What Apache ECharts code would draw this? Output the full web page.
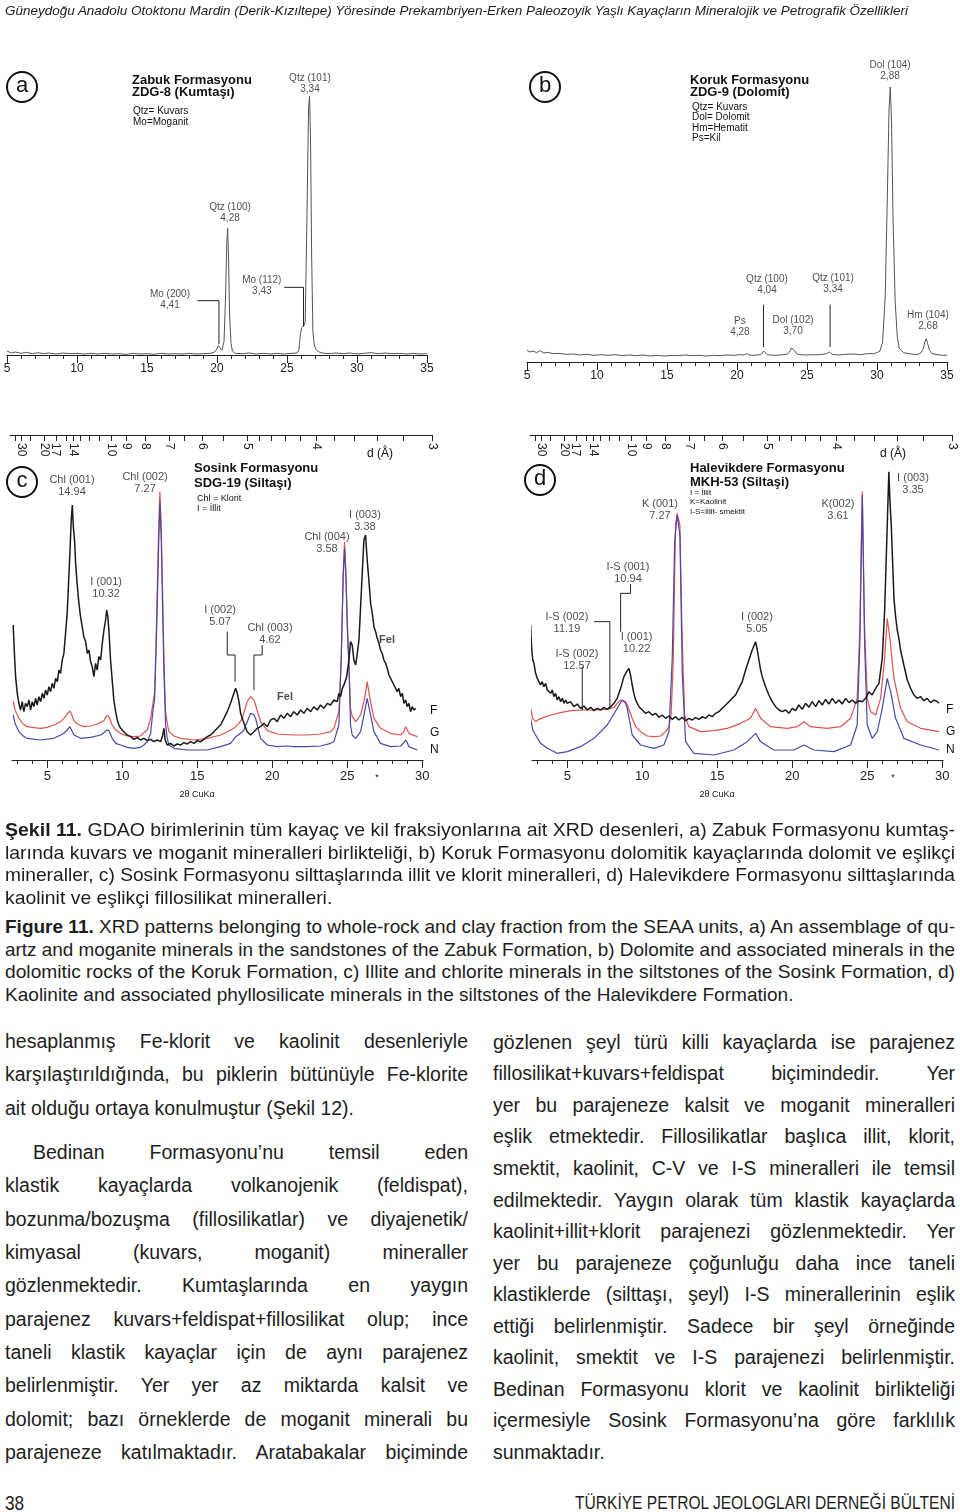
<!DOCTYPE html>
<html>
<head>
<meta charset="utf-8">
<script src="https://cdn.jsdelivr.net/npm/echarts@6/dist/echarts.min.js"></script>
<style>
html, body { margin: 0; padding: 0; background: #fff; }
#page { position: relative; width: 960px; height: 1512px; overflow: hidden; background: #fff; }
#chart { position: absolute; left: 0; top: 0; width: 960px; height: 812px; }
.ln { position: absolute; white-space: nowrap; color: #1d1d1d; }
.ln span { display: inline-block; transform-origin: 0 50%; }
</style>
</head>
<body>
<div id="page"><div id="chart"></div></div>
<script>
// ---- data: [2theta, intensity] ----
const zabukTrace = [[5.0,12],[5.3,6],[5.6,9],[6.0,5],[6.4,8],[6.8,4],[7.2,7],[7.6,4],[8.0,6],[8.5,3],[9.0,6],[9.5,4],[10.0,5],[10.5,3],[11.0,5],[11.5,3],[12.0,5],[12.5,3],[13.0,4],[13.5,2],[14.0,5],[14.5,3],[15.0,4],[15.5,2],[16.0,5],[16.5,3],[17.0,4],[17.5,3],[18.0,5],[18.5,3],[19.0,4],[19.5,5],[19.8,8],[20.0,18],[20.1,28],[20.2,22],[20.35,14],[20.5,40],[20.6,160],[20.7,340],[20.76,380],[20.82,300],[20.9,120],[21.0,35],[21.1,12],[21.3,5],[21.8,4],[22.3,6],[22.8,3],[23.3,5],[23.8,3],[24.3,5],[24.8,3],[25.3,5],[25.7,6],[25.85,15],[25.95,60],[26.05,82],[26.2,88],[26.3,100],[26.42,400],[26.54,740],[26.61,777],[26.68,650],[26.76,300],[26.85,70],[26.95,30],[27.1,15],[27.25,10],[27.35,14],[27.5,6],[28.0,4],[28.5,6],[29.0,4],[29.5,6],[30.0,3],[30.5,5],[31.0,7],[31.5,4],[32.0,6],[32.5,4],[33.0,5],[33.5,3],[34.0,5],[34.5,3],[35.0,4]];

const korukTrace = [[5.0,35],[5.2,30],[5.43,33],[5.7,28],[5.91,34],[6.2,27],[6.5,29],[6.86,25],[7.3,26],[7.8,23],[8.3,24],[8.8,21],[9.3,23],[9.8,20],[10.3,22],[10.8,20],[11.3,22],[11.8,19],[12.3,21],[12.8,19],[13.3,21],[13.8,18],[14.3,20],[14.8,18],[15.3,20],[15.8,19],[16.3,21],[16.8,19],[17.3,20],[17.8,18],[18.3,20],[18.8,19],[19.3,21],[19.8,20],[20.2,22],[20.5,21],[20.7,25],[20.9,21],[21.2,20],[21.5,21],[21.75,24],[21.9,33],[22.0,30],[22.15,22],[22.6,20],[23.1,21],[23.55,23],[23.75,30],[23.9,42],[23.98,45],[24.1,35],[24.25,25],[24.5,22],[25.0,21],[25.5,22],[25.94,22],[26.4,25],[26.6,30],[26.8,23],[27.2,21],[27.7,23],[28.3,24],[28.8,22],[29.3,25],[29.8,25],[30.2,32],[30.4,60],[30.59,200],[30.75,520],[30.86,760],[30.95,825],[31.04,720],[31.15,420],[31.3,180],[31.45,75],[31.6,40],[31.9,28],[32.4,24],[32.86,22],[33.15,28],[33.3,40],[33.42,60],[33.52,70],[33.62,55],[33.75,35],[33.93,25],[34.3,22],[34.7,20],[35.0,21]];

const sosinkF = [[2.73,405],[2.8,330],[2.89,250],[3.0,200],[3.11,170],[3.22,150],[3.33,175],[3.44,145],[3.55,170],[3.67,160],[3.78,180],[3.89,150],[4.0,175],[4.11,160],[4.22,185],[4.33,165],[4.44,190],[4.56,175],[4.67,200],[4.78,185],[4.89,210],[5.0,195],[5.11,220],[5.22,205],[5.33,230],[5.44,215],[5.56,245],[5.67,235],[5.78,270],[5.89,260],[6.0,300],[6.11,320],[6.22,380],[6.33,440],[6.42,530],[6.51,620],[6.6,720],[6.67,765],[6.74,700],[6.82,660],[6.89,590],[7.0,525],[7.11,470],[7.22,430],[7.33,400],[7.44,370],[7.56,355],[7.67,320],[7.78,330],[7.89,295],[8.0,280],[8.11,250],[8.22,290],[8.33,270],[8.44,310],[8.56,300],[8.67,350],[8.78,390],[8.89,420],[8.96,450],[9.04,430],[9.11,390],[9.22,300],[9.33,240],[9.44,180],[9.56,145],[9.67,120],[9.78,105],[9.89,95],[10.11,85],[10.33,75],[10.56,70],[10.78,62],[11.0,68],[11.22,60],[11.44,65],[11.67,58],[11.89,62],[12.11,55],[12.33,60],[12.56,55],[12.7,75],[12.78,95],[12.86,60],[13.0,45],[13.22,50],[13.44,42],[13.67,48],[13.89,45],[14.11,52],[14.33,48],[14.56,55],[14.78,50],[15.0,58],[15.22,55],[15.44,62],[15.67,70],[15.89,75],[16.11,85],[16.33,95],[16.56,105],[16.78,125],[17.0,145],[17.22,170],[17.44,200],[17.56,215],[17.67,200],[17.78,175],[17.89,140],[18.11,110],[18.33,85],[18.56,75],[18.78,85],[19.0,95],[19.22,100],[19.44,110],[19.67,100],[19.89,120],[20.11,125],[20.33,115],[20.56,135],[20.78,125],[21.0,140],[21.22,130],[21.44,145],[21.67,135],[21.89,150],[22.11,140],[22.33,155],[22.56,145],[22.78,160],[23.0,150],[23.22,165],[23.44,155],[23.67,170],[23.89,165],[24.11,180],[24.33,175],[24.44,200],[24.56,190],[24.67,215],[24.82,230],[24.96,250],[25.11,300],[25.22,355],[25.33,345],[25.44,300],[25.56,285],[25.67,320],[25.78,360],[25.89,460],[26.0,560],[26.11,660],[26.22,675],[26.33,600],[26.44,540],[26.56,470],[26.67,440],[26.78,400],[26.89,385],[27.0,365],[27.11,350],[27.22,330],[27.33,320],[27.44,300],[27.56,290],[27.67,275],[27.78,255],[27.89,245],[28.0,250],[28.11,225],[28.22,230],[28.33,205],[28.44,215],[28.56,190],[28.67,200],[28.78,170],[28.89,180],[29.0,160],[29.11,170],[29.22,145],[29.33,160],[29.44,150],[29.56,155]];

const sosinkG = [[2.73,175],[2.85,150],[3.11,125],[3.4,108],[3.67,100],[4.11,97],[4.56,95],[5.0,98],[5.44,105],[5.89,115],[6.11,125],[6.33,138],[6.51,147],[6.6,140],[6.78,118],[7.0,108],[7.44,100],[7.89,102],[8.33,108],[8.78,118],[8.96,133],[9.11,130],[9.33,105],[9.56,90],[9.89,80],[10.33,72],[10.78,70],[11.22,72],[11.44,82],[11.67,90],[11.89,125],[12.05,170],[12.16,205],[12.25,350],[12.33,505],[12.43,700],[12.51,805],[12.6,700],[12.69,505],[12.78,300],[12.89,145],[13.0,110],[13.11,85],[13.44,72],[13.89,65],[14.78,60],[15.67,65],[16.56,75],[17.0,85],[17.44,95],[17.78,110],[18.0,125],[18.33,175],[18.56,190],[18.67,195],[18.78,180],[18.89,165],[19.22,115],[19.67,88],[20.33,78],[21.44,75],[22.33,75],[23.22,78],[23.89,85],[24.11,95],[24.44,145],[24.6,305],[24.73,555],[24.82,655],[24.92,555],[25.0,420],[25.11,290],[25.22,155],[25.33,130],[25.56,115],[25.89,135],[26.16,185],[26.33,235],[26.51,185],[26.78,125],[27.22,95],[27.89,80],[28.56,75],[28.78,85],[28.89,100],[29.0,90],[29.11,80],[29.67,70]];

const sosinkN = [[2.73,135],[2.85,110],[3.11,85],[3.4,72],[3.67,65],[4.56,60],[5.44,65],[5.89,75],[6.11,80],[6.33,90],[6.51,100],[6.6,95],[6.78,75],[7.22,65],[7.89,68],[8.56,75],[8.78,82],[8.96,90],[9.11,88],[9.33,65],[9.56,50],[9.89,45],[10.33,38],[10.78,35],[11.22,38],[11.44,45],[11.67,55],[11.89,80],[12.05,150],[12.16,185],[12.25,320],[12.33,455],[12.43,650],[12.51,775],[12.6,660],[12.69,455],[12.78,260],[12.89,105],[13.0,65],[13.11,45],[13.44,35],[14.33,30],[15.67,30],[16.56,40],[17.22,50],[17.56,70],[17.89,80],[18.11,90],[18.33,115],[18.56,140],[18.67,145],[18.78,135],[18.89,125],[19.22,65],[19.67,45],[20.33,40],[21.0,42],[21.44,40],[22.33,40],[23.22,42],[23.89,50],[24.11,55],[24.44,105],[24.6,305],[24.73,555],[24.82,635],[24.92,535],[25.0,400],[25.11,285],[25.22,105],[25.33,75],[25.56,65],[25.89,85],[26.16,145],[26.33,185],[26.51,145],[26.78,85],[27.22,50],[27.89,40],[28.56,42],[28.78,52],[28.89,60],[29.0,52],[29.11,40],[29.67,30]];

const halevikF = [[2.56,405],[2.62,340],[2.7,300],[2.78,290],[2.89,260],[3.0,245],[3.11,250],[3.22,225],[3.33,235],[3.44,220],[3.56,230],[3.67,210],[3.78,215],[3.89,200],[4.0,210],[4.11,190],[4.22,200],[4.33,180],[4.44,190],[4.56,175],[4.67,185],[4.78,170],[4.89,180],[5.0,170],[5.22,175],[5.44,160],[5.67,168],[5.89,155],[6.11,162],[6.33,150],[6.56,158],[6.78,148],[7.0,155],[7.22,150],[7.44,158],[7.67,152],[7.89,160],[8.11,170],[8.33,185],[8.56,215],[8.78,250],[8.96,265],[9.11,275],[9.22,255],[9.33,225],[9.44,200],[9.56,180],[9.78,160],[10.0,150],[10.22,140],[10.44,145],[10.67,135],[10.89,140],[11.11,128],[11.33,135],[11.56,125],[11.78,132],[12.0,122],[12.22,130],[12.44,120],[12.67,128],[12.89,118],[13.11,125],[13.33,120],[13.56,127],[13.78,122],[14.0,130],[14.22,125],[14.44,135],[14.67,130],[14.89,140],[15.11,145],[15.33,155],[15.56,165],[15.78,175],[16.0,185],[16.22,195],[16.44,215],[16.67,235],[16.89,270],[17.11,300],[17.33,330],[17.56,355],[17.67,330],[17.78,300],[17.89,270],[18.0,250],[18.22,220],[18.44,195],[18.67,175],[18.89,160],[19.11,150],[19.33,145],[19.56,150],[19.78,140],[20.0,155],[20.22,148],[20.44,165],[20.67,152],[20.89,170],[21.11,158],[21.33,175],[21.56,160],[21.78,178],[22.0,165],[22.22,182],[22.44,168],[22.67,185],[22.89,170],[23.11,180],[23.33,168],[23.56,185],[23.78,172],[24.0,180],[24.22,170],[24.44,178],[24.67,175],[24.89,185],[25.11,205],[25.33,195],[25.56,215],[25.78,230],[26.0,305],[26.16,450],[26.33,700],[26.44,865],[26.51,780],[26.6,705],[26.78,485],[26.89,430],[27.0,390],[27.11,365],[27.22,330],[27.44,285],[27.67,240],[27.89,215],[28.11,195],[28.33,185],[28.56,190],[28.78,178],[29.0,185],[29.22,172],[29.44,180],[29.67,175],[29.78,170]];

const halevikG = [[2.56,155],[2.7,125],[2.89,115],[3.11,122],[3.44,128],[3.89,135],[4.56,142],[5.22,148],[6.11,150],[6.89,150],[7.67,152],[8.11,158],[8.33,170],[8.56,180],[8.67,185],[8.89,175],[9.0,165],[9.33,125],[9.56,100],[9.89,85],[10.33,72],[10.78,70],[11.22,72],[11.56,85],[11.78,100],[11.93,140],[12.07,300],[12.16,550],[12.22,705],[12.33,740],[12.45,735],[12.51,705],[12.67,350],[12.78,200],[12.82,135],[13.11,100],[13.89,85],[14.78,88],[15.67,95],[16.56,110],[17.22,125],[17.56,155],[17.67,145],[17.89,125],[18.56,100],[19.67,95],[20.33,100],[20.78,115],[21.22,100],[22.33,95],[23.22,100],[23.89,125],[24.33,185],[24.51,400],[24.6,650],[24.67,805],[24.73,650],[24.82,400],[25.0,185],[25.22,145],[25.56,135],[25.89,185],[26.16,305],[26.33,425],[26.51,365],[26.78,245],[27.22,155],[27.67,115],[28.56,95],[29.78,85]];

const halevikN = [[2.56,125],[2.7,90],[2.89,75],[3.22,50],[3.67,35],[4.33,20],[5.0,25],[5.89,40],[6.78,65],[7.67,105],[8.33,155],[8.67,180],[8.89,170],[9.0,155],[9.33,75],[9.89,45],[10.78,35],[11.44,45],[11.78,85],[12.0,305],[12.16,655],[12.33,735],[12.51,675],[12.67,255],[12.89,55],[13.44,20],[14.78,15],[16.11,30],[17.0,55],[17.56,80],[17.89,55],[18.78,30],[20.11,30],[20.78,45],[21.44,30],[22.78,25],[23.89,45],[24.33,105],[24.51,355],[24.67,795],[24.82,355],[25.0,105],[25.33,65],[25.67,85],[26.0,155],[26.33,245],[26.56,205],[26.89,125],[27.44,65],[28.56,45],[29.78,30]];

// ---- axis tick labels ----
const twoThetaLabels = [5, 10, 15, 20, 25, 30];
const twoThetaMinor = [3,4,6,7,8,9,11,12,13,14,16,17,18,19,21,22,23,24,26,27,28,29];
const dLabels = [40, 30, 20, 17, 14, 10, 9, 8, 7, 6, 5, 4, 3];
const dMinor = [35, 25, 15, 13, 12, 11, 6.5, 5.5, 4.8, 4.6, 4.4, 4.2, 3.8, 3.6, 3.4, 3.2];

// ---- peak annotations: [2theta, intensity, text] ----
const annotA = [[26.64,814,'Qtz (101)\n3,34'],[20.93,426,'Qtz (100)\n4,28'],[23.2,207,'Mo (112)\n3,43'],[16.64,165,'Mo (200)\n4,41']];
const arrowsA = [[[20.14,32],[20.14,163],[18.6,163]],[[26.18,85],[26.18,203],[24.8,203]]];
const annotB = [[30.93,874,'Dol (104)\n2,88'],[22.14,231,'Qtz (100)\n4,04'],[26.86,234,'Qtz (101)\n3,34'],[20.21,105,'Ps\n4,28'],[24.0,108,'Dol (102)\n3,70'],[33.64,123,'Hm (104)\n2,68']];
const arrowsB = [[[21.89,45],[21.89,172]],[[26.65,45],[26.65,172]]];
const annotC = [[6.65,823,'Chl (001)\n14.94'],[11.52,832,'Chl (002)\n7.27'],[23.65,652,'Chl (004)\n3.58'],[26.18,718,'I (003)\n3.38'],[8.92,517,'I (001)\n10.32'],[16.52,433,'I (002)\n5.07'],[19.85,378,'Chl (003)\n4.62']];
const felC = [[20.85,189,'Fel'],[27.65,360,'Fel']];
const arrowsC = [[[17.52,235],[17.52,315],[17.0,315],[17.0,385]],[[18.78,210],[18.78,315],[19.33,315],[19.33,345]]];
const annotD = [[11.18,750,'K (001)\n7.27'],[23.05,750,'K(002)\n3.61'],[28.05,828,'I (003)\n3.35'],[9.05,562,'I-S (001)\n10.94'],[4.98,412,'I-S (002)\n11.19'],[5.65,300,'I-S (002)\n12.57'],[9.62,352,'I (001)\n10.22'],[17.65,412,'I (002)\n5.05']];
const arrowsD = [[[8.56,385],[8.56,500],[9.22,500],[9.22,528]],[[7.84,155],[7.84,415],[6.78,415]],[[6.0,150],[6.0,280]]];

// ---- page text ----
const headerText = 'Güneydoğu Anadolu Otoktonu Mardin (Derik-Kızıltepe) Yöresinde Prekambriyen-Erken Paleozoyik Yaşlı Kayaçların Mineralojik ve Petrografik Özellikleri';
const captionTr = [
  '<b>Şekil 11.</b> GDAO birimlerinin tüm kayaç ve kil fraksiyonlarına ait XRD desenleri, a) Zabuk Formasyonu kumtaş-',
  'larında kuvars ve moganit mineralleri birlikteliği, b) Koruk Formasyonu dolomitik kayaçlarında dolomit ve eşlikçi',
  'mineraller, c) Sosink Formasyonu silttaşlarında illit ve klorit mineralleri, d) Halevikdere Formasyonu silttaşlarında',
  'kaolinit ve eşlikçi fillosilikat mineralleri.'
];
const captionEn = [
  '<b>Figure 11.</b> XRD patterns belonging to whole-rock and clay fraction from the SEAA units, a) An assemblage of qu-',
  'artz and moganite minerals in the sandstones of the Zabuk Formation, b) Dolomite and associated minerals in the',
  'dolomitic rocks of the Koruk Formation, c) Illite and chlorite minerals in the siltstones of the Sosink Formation, d)',
  'Kaolinite and associated phyllosilicate minerals in the siltstones of the Halevikdere Formation.'
];
const leftCol = [
  'hesaplanmış Fe-klorit ve kaolinit desenleriyle',
  'karşılaştırıldığında, bu piklerin bütünüyle Fe-klorite',
  'ait olduğu ortaya konulmuştur (Şekil 12).',
  'Bedinan Formasyonu’nu temsil eden',
  'klastik kayaçlarda volkanojenik (feldispat),',
  'bozunma/bozuşma (fillosilikatlar) ve diyajenetik/',
  'kimyasal (kuvars, moganit) mineraller',
  'gözlenmektedir. Kumtaşlarında en yaygın',
  'parajenez kuvars+feldispat+fillosilikat olup; ince',
  'taneli klastik kayaçlar için de aynı parajenez',
  'belirlenmiştir. Yer yer az miktarda kalsit ve',
  'dolomit; bazı örneklerde de moganit minerali bu',
  'parajeneze katılmaktadır. Aratabakalar biçiminde'
];
const rightCol = [
  'gözlenen şeyl türü killi kayaçlarda ise parajenez',
  'fillosilikat+kuvars+feldispat biçimindedir. Yer',
  'yer bu parajeneze kalsit ve moganit mineralleri',
  'eşlik etmektedir. Fillosilikatlar başlıca illit, klorit,',
  'smektit, kaolinit, C-V ve I-S mineralleri ile temsil',
  'edilmektedir. Yaygın olarak tüm klastik kayaçlarda',
  'kaolinit+illit+klorit parajenezi gözlenmektedir. Yer',
  'yer bu parajeneze çoğunluğu daha ince taneli',
  'klastiklerde (silttaşı, şeyl) I-S minerallerinin eşlik',
  'ettiği belirlenmiştir. Sadece bir şeyl örneğinde',
  'kaolinit, smektit ve I-S parajenezi belirlenmiştir.',
  'Bedinan Formasyonu klorit ve kaolinit birlikteliği',
  'içermesiyle Sosink Formasyonu’na göre farklılık',
  'sunmaktadır.'
];

const SANS = '"Liberation Sans", Arial, sans-serif';
const page = document.getElementById('page');

// each line placed on its own; justified lines get extra word spacing, or are squeezed (scaleX);
// "fit" blocks always scale the glyphs to the width, like a condensed face
function addLines(lines, cfg) {
  const items = [];
  lines.forEach((txt, i) => {
    const lh = cfg.size * 1.25;
    let cy = cfg.y0 + cfg.step * i;
    if (cfg.gapAfter != null && i > cfg.gapAfter) cy += cfg.gap;
    const indent = (cfg.indent && cfg.indent[i]) || 0;
    const d = document.createElement('div');
    d.className = 'ln';
    d.style.left = (cfg.x + indent) + 'px';
    d.style.top = (cy - lh / 2) + 'px';
    d.style.font = (cfg.style || 'normal') + ' ' + (cfg.weight || 'normal') + ' ' + cfg.size + 'px/' + lh + 'px ' + SANS;
    if (cfg.color) d.style.color = cfg.color;
    const s = document.createElement('span');
    s.innerHTML = txt;
    d.appendChild(s);
    page.appendChild(d);
    items.push({ s, W: cfg.w - indent, last: (cfg.last || []).includes(i) });
  });
  let sum = 0, n = 0;
  items.forEach(o => {
    o.nat = o.s.getBoundingClientRect().width;
    if (!o.last) { sum += cfg.fit ? o.W / o.nat : Math.min(1, o.W / o.nat); n++; }
  });
  const avg = cfg.lastScale || (n ? sum / n : 1);
  items.forEach(o => {
    if (o.last) {
      if (avg !== 1) o.s.style.transform = 'scaleX(' + avg + ')';
      return;
    }
    if (cfg.fit || o.nat > o.W) o.s.style.transform = 'scaleX(' + (o.W / o.nat) + ')';
    else {
      const sp = (o.s.textContent.match(/ /g) || []).length;
      if (sp) o.s.style.wordSpacing = ((o.W - o.nat) / sp) + 'px';
    }
  });
}

addLines([headerText], { x: 5, w: 903, y0: 11, step: 0, size: 13, style: 'italic', color: '#222', fit: true });
addLines(captionTr, { x: 5, w: 950, y0: 830, step: 22.6, size: 19, last: [3], fit: true });
addLines(captionEn, { x: 5, w: 950, y0: 927, step: 22.6, size: 19, last: [3], fit: true });
addLines(leftCol, { x: 5, w: 463, y0: 1041, step: 33.35, size: 19.5, gapAfter: 2, gap: 11, indent: { 3: 28 }, last: [2] });
addLines(rightCol, { x: 493, w: 462, y0: 1042, step: 31.55, size: 19.5, last: [13] });
addLines(['38'], { x: 5, w: 40, y0: 1503, step: 0, size: 21, last: [0], lastScale: 0.82 });
addLines(['TÜRKİYE PETROL JEOLOGLARI DERNEĞİ BÜLTENİ'], { x: 575, w: 380, y0: 1503, step: 0, size: 19, fit: true });

// ---- chart ----
const LAMBDA = 1.5406;
const toTwoTheta = d => 2 * Math.asin(LAMBDA / (2 * d)) * 180 / Math.PI;
const toD = tt => LAMBDA / (2 * Math.sin(tt / 2 * Math.PI / 180));
const INK = '#222';

function axisAB(gi) {
  return {
    type: 'value', gridIndex: gi, min: 5, max: 35, interval: 5, position: 'bottom',
    axisLine: { show: true, onZero: false, lineStyle: { color: INK, width: 1.2 } },
    axisTick: { show: true, length: 8, lineStyle: { color: INK } },
    minorTick: { show: true, splitNumber: 5, length: 4, lineStyle: { color: INK } },
    axisLabel: { fontSize: 12, color: INK, margin: 8, fontFamily: SANS },
    splitLine: { show: false }
  };
}
function axisMajor(gi) {
  return {
    type: 'value', gridIndex: gi, min: 2.65, max: 30.05, position: 'bottom',
    axisLine: { show: true, onZero: false, lineStyle: { color: INK, width: 1.2 } },
    axisTick: { show: true, length: 8, customValues: twoThetaLabels, lineStyle: { color: INK } },
    axisLabel: { show: true, customValues: twoThetaLabels, fontSize: 13, color: INK, margin: 10, fontFamily: SANS },
    splitLine: { show: false }
  };
}
function axisMinor(gi) {
  return {
    type: 'value', gridIndex: gi, min: 2.65, max: 30.05, position: 'bottom',
    axisLine: { show: false, onZero: false },
    axisTick: { show: true, length: 4, customValues: twoThetaMinor, lineStyle: { color: INK } },
    axisLabel: { show: false },
    splitLine: { show: false }
  };
}
function axisTop(gi) {
  return {
    type: 'value', gridIndex: gi, min: toTwoTheta(40), max: toTwoTheta(3), position: 'top',
    axisLine: { show: true, onZero: false, lineStyle: { color: INK, width: 1.2 } },
    axisTick: { show: true, inside: true, length: 6, customValues: dLabels.concat(dMinor).map(toTwoTheta), lineStyle: { color: INK } },
    axisLabel: {
      show: true, inside: true, rotate: 90, customValues: dLabels.map(toTwoTheta),
      formatter: v => String(Math.round(toD(v) * 10) / 10),
      fontSize: 12, color: INK, margin: 8, fontFamily: SANS
    },
    splitLine: { show: false }
  };
}
function yHidden(gi, max) {
  return { type: 'value', gridIndex: gi, min: 0, max: max, show: false, splitLine: { show: false } };
}
function trace(data, xi, yi, color, width) {
  return {
    type: 'line', data: data, xAxisIndex: xi, yAxisIndex: yi, showSymbol: false, symbol: 'none',
    lineStyle: { color: color, width: width }, silent: true, z: 2
  };
}
function notes(data, xi, yi, size, weight) {
  return {
    type: 'scatter', data: data, xAxisIndex: xi, yAxisIndex: yi, symbolSize: 1,
    itemStyle: { color: 'rgba(0,0,0,0)' }, silent: true, z: 5,
    label: {
      show: true, position: 'inside', formatter: p => p.value[2], color: INK,
      fontSize: size, lineHeight: size + 1, fontWeight: weight || 'normal', fontFamily: SANS, align: 'center'
    }
  };
}
function arrows(paths, xi, yi) {
  return {
    type: 'lines', coordinateSystem: 'cartesian2d', xAxisIndex: xi, yAxisIndex: yi, polyline: true,
    symbol: ['none', 'arrow'], symbolSize: 7, silent: true, z: 4,
    lineStyle: { color: INK, width: 1, opacity: 1 },
    data: paths.map(p => ({ coords: p }))
  };
}
function txt(x, y, text, size, weight, align) {
  return {
    type: 'text', x: x, y: y, silent: true,
    style: { text: text, font: (weight || 'normal') + ' ' + size + 'px ' + SANS, fill: '#111', align: align || 'left', verticalAlign: 'middle' }
  };
}
function letter(cx, cy, ch) {
  return [
    { type: 'circle', shape: { cx: cx, cy: cy, r: 15 }, style: { fill: 'none', stroke: '#111', lineWidth: 2 }, silent: true },
    { type: 'text', x: cx, y: cy - 1, silent: true, style: { text: ch, font: '22px ' + SANS, fill: '#111', align: 'center', verticalAlign: 'middle' } }
  ];
}

const F_COLOR = '#1a1a1a', G_COLOR = '#e0524f', N_COLOR = '#4848aa';

const option = {
  animation: false,
  backgroundColor: '#fff',
  grid: [
    { left: 7, top: 55, width: 420, height: 300 },
    { left: 527, top: 62, width: 420, height: 300 },
    { left: 12, top: 435, width: 411, height: 325 },
    { left: 10, top: 435, width: 422, height: 325 },
    { left: 532, top: 435, width: 411, height: 325 },
    { left: 530, top: 435, width: 422, height: 325 }
  ],
  xAxis: [axisAB(0), axisAB(1), axisMajor(2), axisMinor(2), axisTop(3), axisMajor(4), axisMinor(4), axisTop(5)],
  yAxis: [yHidden(0, 900), yHidden(1, 900), yHidden(2, 975), yHidden(3, 975), yHidden(4, 975), yHidden(5, 975)],
  series: [
    trace(zabukTrace, 0, 0, '#555', 1),
    trace(korukTrace, 1, 1, '#555', 1),
    trace(sosinkG, 2, 2, G_COLOR, 1.2),
    trace(sosinkN, 2, 2, N_COLOR, 1.2),
    trace(sosinkF, 2, 2, F_COLOR, 1.5),
    trace(halevikG, 5, 4, G_COLOR, 1.2),
    trace(halevikN, 5, 4, N_COLOR, 1.2),
    trace(halevikF, 5, 4, F_COLOR, 1.5),
    notes(annotA, 0, 0, 10),
    notes(annotB, 1, 1, 10),
    notes(annotC, 2, 2, 11),
    notes(felC, 2, 2, 11, 'bold'),
    notes(annotD, 5, 4, 11),
    arrows(arrowsA, 0, 0),
    arrows(arrowsB, 1, 1),
    arrows(arrowsC, 2, 2),
    arrows(arrowsD, 5, 4)
  ],
  graphic: [].concat(
    letter(22, 87, 'a'), letter(545, 87, 'b'), letter(22, 482, 'c'), letter(540, 480, 'd'),
    [
      txt(132, 80, 'Zabuk Formasyonu', 13, 'bold'),
      txt(132, 92, 'ZDG-8 (Kumtaşı)', 13, 'bold'),
      txt(133, 111, 'Qtz= Kuvars', 10),
      txt(133, 122, 'Mo=Moganit', 10),
      txt(690, 80, 'Koruk Formasyonu', 13, 'bold'),
      txt(690, 92, 'ZDG-9 (Dolomit)', 13, 'bold'),
      txt(692, 107, 'Qtz= Kuvars', 10),
      txt(692, 117, 'Dol= Dolomit', 10),
      txt(692, 128, 'Hm=Hematit', 10),
      txt(692, 138, 'Ps=Kil', 10),
      txt(194, 468, 'Sosink Formasyonu', 13, 'bold'),
      txt(194, 483, 'SDG-19 (Siltaşı)', 13, 'bold'),
      txt(197, 499, 'Chl = Klorit', 9),
      txt(197, 509, 'I = İllit', 9),
      txt(690, 468, 'Halevikdere Formasyonu', 13, 'bold'),
      txt(690, 482, 'MKH-53 (Siltaşi)', 13, 'bold'),
      txt(690, 493, 'I = İllit', 8),
      txt(690, 502, 'K=Kaolinit', 8),
      txt(690, 512, 'I-S=İllit- smektit', 8),
      txt(380, 454, 'd (Å)', 12, 'normal', 'center'),
      txt(893, 454, 'd (Å)', 12, 'normal', 'center'),
      txt(430, 711, 'F', 12), txt(430, 733, 'G', 12), txt(430, 750, 'N', 12),
      txt(946, 710, 'F', 12), txt(946, 732, 'G', 12), txt(946, 750, 'N', 12),
      txt(197, 795, '2θ CuKα', 9, 'normal', 'center'),
      txt(717, 795, '2θ CuKα', 9, 'normal', 'center'),
      txt(377, 778, '*', 9, 'normal', 'center'),
      txt(893, 778, '*', 9, 'normal', 'center')
    ]
  )
};

const chart = echarts.init(document.getElementById('chart'), null, { renderer: 'canvas' });
chart.setOption(option);
</script>
</body>
</html>
